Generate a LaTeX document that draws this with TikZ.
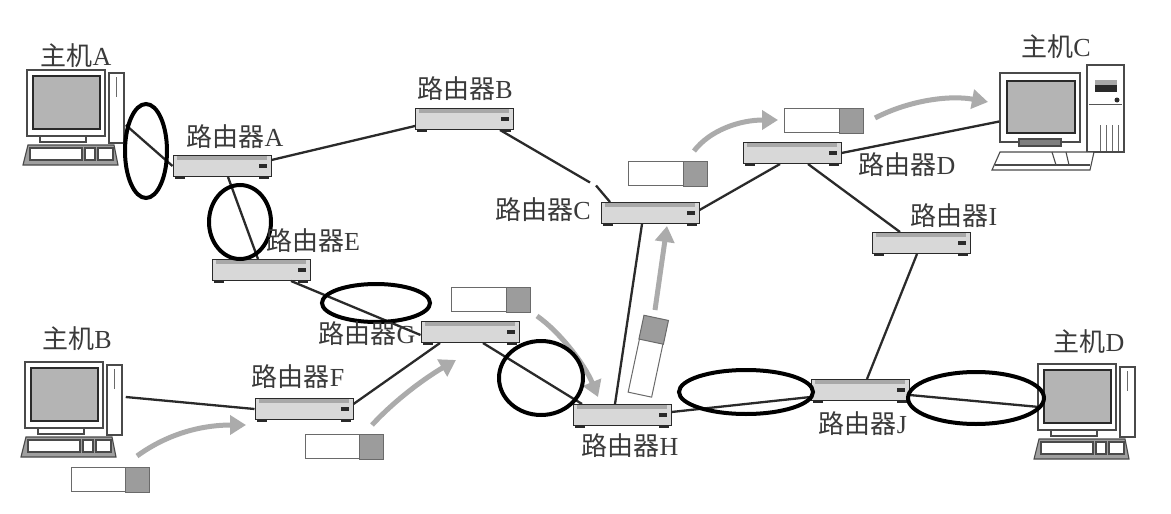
\documentclass[tikz,border=0pt]{standalone}
\usepackage{fontspec}
\setmainfont{Noto Sans CJK SC}
\newfontfamily\lat{Liberation Serif}
\usetikzlibrary{arrows.meta,calc}
\definecolor{ink}{HTML}{2A2A2A}
\definecolor{txt}{HTML}{3A3A3A}
\definecolor{bodyg}{HTML}{D8D8D8}
\definecolor{bandg}{HTML}{A8A8A8}
\definecolor{pktg}{HTML}{9C9C9C}
\definecolor{arrg}{HTML}{ABABAB}
\definecolor{scr}{HTML}{B4B4B4}
\tikzset{
  lbl/.style={font=\fontsize{26}{26}\selectfont,text=txt,inner sep=0pt},
  routerbox/.style={draw=ink,line width=1pt,fill=bodyg,minimum width=98pt,minimum height=21pt,inner sep=0pt},
  link/.style={draw=ink,line width=2.3pt},
  circ/.style={draw=black,line width=4pt},
  flow/.style={draw=arrg,line width=5pt,-{Triangle[length=16pt,width=19pt]}},
  pktwhite/.style={draw=ink!70,line width=1pt,fill=white,inner sep=0pt,minimum height=24pt,minimum width=78pt},
  pktgray/.style={draw=ink!70,line width=1pt,fill=pktg},
  frame/.style={draw=ink!85,line width=1.5pt,fill=white,inner sep=0pt},
  part/.style={draw=ink!85,line width=1.1pt,fill=white},
  screen/.style={draw=ink,line width=1.8pt,fill=scr}
}
\newcommand{\router}[3]{%
  \node[routerbox] (#1) at (#2,#3) {};
  \begin{scope}[shift={(#2,#3)}]
    \fill[bandg] (-45,-10) rectangle (45,-6);
    \fill[ink] (-47,10.5) rectangle (-37,13);
    \fill[ink] (37,10.5) rectangle (47,13);
    \fill[ink] (37,-2) rectangle (45,1.5);
  \end{scope}}
\newcommand{\smallhost}[3]{%
  \node[frame,minimum width=78pt,minimum height=66pt] (#1) at (#2,#3) {};
  \begin{scope}[shift={(#2,#3)}]
    \draw[screen] (-33,-27) rectangle (34,26);
    \draw[part] (43,-30) rectangle (58,40);
    \draw[draw=ink!70,line width=1pt] (50,-26) -- (50,-6);
    \draw[part] (-26,33) rectangle (20,39);
    \draw[part,fill=ink!45] (-43,62) -- (-38,42) -- (48,42) -- (52,62) -- cycle;
    \draw[part] (-36,45) rectangle (16,57);
    \draw[part] (19,45) rectangle (29,57);
    \draw[part] (32,45) rectangle (47,57);
  \end{scope}}
\begin{document}
\begin{tikzpicture}[x=1pt,y=-1pt]
\useasboundingbox (0,0) rectangle (1171,514);
\fill[white] (0,0) rectangle (1171,514);
% hosts
\smallhost{hosta}{66}{103}
\smallhost{hostb}{64}{395}
\smallhost{hostd}{1077}{397}
\draw[part] (1087,65) rectangle (1124,152);
\draw[draw=ink!80,line width=1pt] (1089,104) -- (1122,104);
\fill[bandg] (1095,80) rectangle (1117,85);
\fill[ink] (1095,85) rectangle (1117,92);
\fill[ink] (1117,100) circle (2.5pt);
\foreach \q in {1100,1106,1112,1118}{\draw[draw=ink!70,line width=1pt] (\q,125) -- (\q,151);}
\node[frame,minimum width=80pt,minimum height=69pt] (hostc) at (1040,107.5) {};
\draw[screen] (1007,81) rectangle (1075,133);
\draw[part,fill=ink!60] (1019,139) rectangle (1061,146);
\draw[part] (1000,152) -- (1094,152) -- (1090,170) -- (992,170) -- cycle;
\draw[part] (995,165) -- (1090,165);
\draw[part] (1052,152) -- (1056,165) (1066,152) -- (1069,165);
% routers
\router{ra}{222}{166}
\router{rb}{464}{119}
\router{rc}{650}{213}
\router{rd}{792}{153}
\router{re}{261}{270}
\router{rf}{304}{409}
\router{rg}{470}{332}
\router{rh}{622}{415}
\router{ri}{921}{243}
\router{rj}{860}{390}
% links
\draw[link] ([xshift=20pt,yshift=-22pt]hosta.east) -- (ra.west);
\draw[link] ([yshift=6pt]ra.east) -- ([xshift=-49pt,yshift=-7pt]rb.center);
\draw[link] ([xshift=36pt]rb.south) -- ([xshift=-60pt,yshift=19.5pt]rc.north);
\draw[link] ([xshift=-54pt,yshift=16.5pt]rc.north) -- ([xshift=-40pt]rc.north);
\draw[link] ([xshift=6pt]ra.south) -- ([xshift=-3pt]re.north);
\draw[link] ([xshift=30pt]re.south) -- ([yshift=-3pt]rg.west);
\draw[link] ([xshift=22pt,yshift=-2pt]hostb.east) -- (rf.west);
\draw[link] ([yshift=5pt]rf.east) -- ([xshift=-30pt]rg.south);
\draw[link] ([xshift=13pt]rg.south) -- ([xshift=-40pt]rh.north);
\draw[link] ([xshift=-7pt]rh.north) -- ([xshift=-8pt]rc.south);
\draw[link] ([yshift=3pt]rh.east) -- ([yshift=-7pt]rj.west);
\draw[link] ([yshift=-5pt]rj.east) -- ([xshift=2pt,yshift=-10pt]hostd.west);
\draw[link] ([xshift=7pt]rj.north) -- ([xshift=-4pt]ri.south);
\draw[link] ([xshift=16pt]rd.south) -- ([xshift=-21pt]ri.north);
\draw[link] ([yshift=3pt]rc.east) -- ([xshift=-12pt]rd.south);
\draw[link] (rd.east) -- ([yshift=-14pt]hostc.west);
% packets
\node[pktwhite] (p1) at (110,479.5) {};
\node[pktwhite] (p2) at (344,446.5) {};
\node[pktwhite] (p3) at (490.5,299.5) {};
\node[pktwhite] (p5) at (667.5,173.5) {};
\node[pktwhite] (p6) at (823.5,120.5) {};
\node[pktwhite,rotate=78] (p4) at (648,356.5) {};
\foreach \p in {p1,p2,p3,p5,p6}{\draw[pktgray] ($(\p.north east)+(-24,0)$) rectangle (\p.south east);}
\draw[pktgray] (p4.north east) -- (p4.south east) -- ($(p4.south east)!24/78!(p4.south west)$) -- ($(p4.north east)!24/78!(p4.north west)$) -- cycle;
% flow arrows
\coordinate (f1s) at (137,456); \coordinate (f1e) at (246,425);
\coordinate (f2s) at (372,425); \coordinate (f2e) at (456,360);
\coordinate (f3s) at (537,316); \coordinate (f3e) at (598,397);
\coordinate (f4s) at (655,310); \coordinate (f4e) at (667,226);
\coordinate (f5s) at (694,151); \coordinate (f5e) at (778,120);
\coordinate (f6s) at (875,118); \coordinate (f6e) at (988,102);
\draw[flow] (f1s) .. controls (170,432) and (205,425) .. (f1e);
\draw[flow] (f2s) .. controls (395,400) and (425,378) .. (f2e);
\draw[flow] (f3s) .. controls (560,332) and (585,365) .. (f3e);
\draw[flow] (f4s) -- (f4e);
\draw[flow] (f5s) .. controls (710,130) and (740,120) .. (f5e);
\draw[flow] (f6s) .. controls (910,100) and (950,95) .. (f6e);
% ellipses
\draw[circ] (146,151) ellipse (21 and 47);
\draw[circ] (240,222) ellipse (31 and 37);
\draw[circ] (376,303) ellipse (54 and 19);
\draw[circ] (541,378) ellipse (42 and 37);
\draw[circ] (746,392) ellipse (67 and 22);
\draw[circ] (976,398) ellipse (68 and 26);
% labels
\node[lbl] (la) at (76,56) {主机{\lat A}};
\node[lbl] (lb) at (77,339) {主机{\lat B}};
\node[lbl] (lc) at (1056,47) {主机{\lat C}};
\node[lbl] (ld) at (1089,342) {主机{\lat D}};
\node[lbl] (ta) at (235,137) {路由器{\lat A}};
\node[lbl] (tb) at (465,89) {路由器{\lat B}};
\node[lbl] (tc) at (543,210) {路由器{\lat C}};
\node[lbl] (td) at (907,165) {路由器{\lat D}};
\node[lbl] (te) at (313,241) {路由器{\lat E}};
\node[lbl] (tf) at (298,377) {路由器{\lat F}};
\node[lbl] (tg) at (367,334) {路由器{\lat G}};
\node[lbl] (th) at (630,446) {路由器{\lat H}};
\node[lbl] (ti) at (954,216) {路由器{\lat I}};
\node[lbl] (tj) at (863,424) {路由器{\lat J}};
\end{tikzpicture}
\end{document}
